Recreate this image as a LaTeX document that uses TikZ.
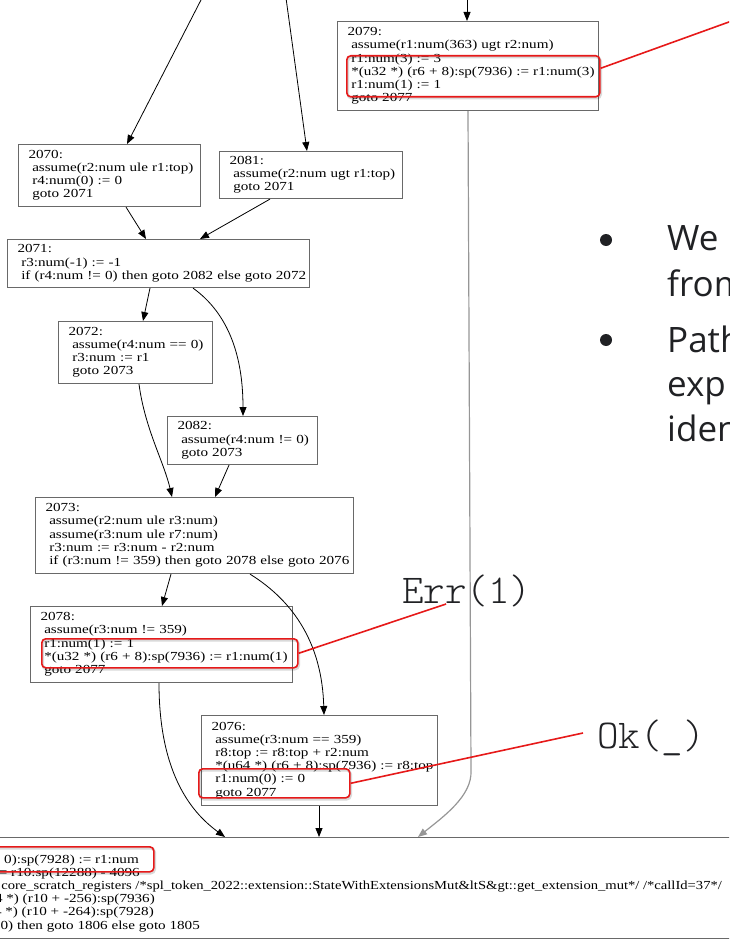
\documentclass[tikz,border=0pt]{standalone}
\usepackage{fontspec}
\usetikzlibrary{arrows.meta}
\newfontfamily\gvfont[FakeStretch=1.23]{Liberation Serif}
\newfontfamily\gvlongfont[FakeStretch=1.187]{Liberation Serif}
\newfontfamily\codefont{lmmonolt10-regular.otf}
\newfontfamily\slidefont{Open Sans}
\definecolor{hlred}{RGB}{230,25,25}
\definecolor{boxgray}{RGB}{105,105,105}
\definecolor{ink}{RGB}{32,33,36}
\definecolor{sidegray}{RGB}{150,150,150}
\newcommand{\ind}{\hspace*{3.7pt}}
\newcommand{\gvlines}[1]{\begin{tabular}{@{}l@{}}#1\end{tabular}}

\begin{document}
\begin{tikzpicture}[x=1pt,y=-1pt,
  gvbox/.style={draw=boxgray, line width=1.1pt, fill=white, rectangle, anchor=north west,
    inner xsep=10pt, inner ysep=0pt, align=left, font=\gvfont\fontsize{12.3}{13.2}\selectfont},
  gvline/.style={inner sep=0pt, font=\gvfont\fontsize{12.3}{13.2}\selectfont, anchor=base east},
  flow/.style={line width=0.8pt, -{Triangle[length=9pt,width=7pt]}},
  hlbox/.style={draw=hlred, line width=1.6pt, rounded corners=4pt, anchor=north west, inner sep=0pt,
    preaction={draw=black, opacity=0.15, line width=2.4pt, transform canvas={shift={(1pt,-1.5pt)}}}},
  hlline/.style={draw=hlred, line width=1.6pt},
  resulttag/.style={font=\codefont\fontsize{41}{46}\selectfont, text=ink, inner sep=0pt, anchor=base west},
  bullettext/.style={font=\slidefont\fontsize{35}{45}\selectfont, text=ink, inner sep=0pt, anchor=base west},
  bulletdot/.style={circle, fill=ink, minimum size=12pt, inner sep=0pt},
]
\useasboundingbox (0,0) rectangle (729,941);
\clip (0,0) rectangle (729,941);

% ---- basic blocks ----
\node (n2079) [gvbox, text width=241pt, minimum height=89pt] at (337,21)
  {\gvlines{2079:\\ \ind assume(r1:num(363) ugt r2:num)\\ \ind r1:num(3) := 3\\
   \ind *(u32 *) (r6 + 8):sp(7936) := r1:num(3)\\ \ind r1:num(1) := 1\\ \ind goto 2077}};
\node (n2070) [gvbox, text width=162pt, minimum height=62pt] at (18,144)
  {\gvlines{2070:\\ \ind assume(r2:num ule r1:top)\\ \ind r4:num(0) := 0\\ \ind goto 2071}};
\node (n2081) [gvbox, text width=163pt, minimum height=47pt] at (219,151)
  {\gvlines{2081:\\ \ind assume(r2:num ugt r1:top)\\ \ind goto 2071}};
\node (n2071) [gvbox, text width=282pt, minimum height=48pt] at (7,239)
  {\gvlines{2071:\\ \ind r3:num(-1) := -1\\ \ind if (r4:num != 0) then goto 2082 else goto 2072}};
\node (n2072) [gvbox, text width=134pt, minimum height=62pt] at (58,321)
  {\gvlines{2072:\\ \ind assume(r4:num == 0)\\ \ind r3:num := r1\\ \ind goto 2073}};
\node (n2082) [gvbox, text width=130pt, minimum height=48pt] at (167,416)
  {\gvlines{2082:\\ \ind assume(r4:num != 0)\\ \ind goto 2073}};
\node (n2073) [gvbox, text width=298pt, minimum height=76pt] at (35,497)
  {\gvlines{2073:\\ \ind assume(r2:num ule r3:num)\\ \ind assume(r3:num ule r7:num)\\
   \ind r3:num := r3:num - r2:num\\ \ind if (r3:num != 359) then goto 2078 else goto 2076}};
\node (n2078) [gvbox, text width=242pt, minimum height=76pt] at (30,606)
  {\gvlines{2078:\\ \ind assume(r3:num != 359)\\ \ind r1:num(1) := 1\\
   \ind *(u32 *) (r6 + 8):sp(7936) := r1:num(1)\\ \ind goto 2077}};
\node (n2076) [gvbox, text width=216pt, minimum height=90pt] at (201,715)
  {\gvlines{2076:\\ \ind assume(r3:num == 359)\\ \ind r8:top := r8:top + r2:num\\
   \ind *(u64 *) (r6 + 8):sp(7936) := r8:top\\ \ind r1:num(0) := 0\\ \ind goto 2077}};
\node (n2077) [gvbox, text width=770pt, minimum height=101pt] at (-30,837) {};
\node (l2) [gvline] at (139,863) {+ 0):sp(7928) := r1:num};
\node (l3) [gvline] at (140,876.2) {:= r10:sp(12288) - 4096};
\node (l4) [gvline, font=\gvlongfont\fontsize{12.3}{13.2}\selectfont] at (722,889.4)
  {core\_scratch\_registers /*spl\_token\_2022::extension::StateWithExtensionsMut\&ltS\&gt::get\_extension\_mut*/ /*callId=37*/};
\node (l5) [gvline] at (155,902.6) {64 *) (r10 + -256):sp(7936)};
\node (l6) [gvline] at (154,915.8) {u64 *) (r10 + -264):sp(7928)};
\node (l7) [gvline] at (200,929) {!= 0) then goto 1806 else goto 1805};

% ---- control-flow edges ----
\coordinate (in2079) at (467,-2);
\coordinate (in2070) at (202,-2);
\coordinate (in2081) at (286,-2);
\draw[flow] (in2079) -- ([xshift=130pt]n2079.north west);
\draw[flow] (in2070) -- ([xshift=109pt]n2070.north west);
\draw[flow] (in2081) -- ([xshift=88pt]n2081.north west);
\draw[flow] ([xshift=108pt]n2070.south west) -- ([xshift=139pt]n2071.north west);
\draw[flow] ([xshift=51pt]n2081.south west) -- ([xshift=193pt]n2071.north west);
\draw[flow] ([xshift=143pt]n2071.south west) -- ([xshift=85pt]n2072.north west);
\draw[flow] ([xshift=186pt]n2071.south west) .. controls +(32,23) and +(0,-66) .. ([xshift=76pt]n2082.north west);
\draw[flow] ([xshift=81pt]n2072.south west) .. controls +(6,45) and +(-8,-35) .. ([xshift=137pt]n2073.north west);
\draw[flow] ([xshift=62pt]n2082.south west) -- ([xshift=180pt]n2073.north west);
\draw[flow] ([xshift=136pt]n2073.south west) -- ([xshift=132pt]n2078.north west);
\draw[flow] ([xshift=215pt]n2073.south west) .. controls +(45,28) and +(-2,-70) .. ([xshift=123pt]n2076.north west);
\draw[flow] ([xshift=129pt]n2078.south west) .. controls +(0,95) and +(-30,-22) .. ([xshift=255pt]n2077.north west);
\draw[flow] ([xshift=118pt]n2076.south west) -- ([xshift=349pt]n2077.north west);
\draw[flow, draw=sidegray, line width=1.2pt] ([xshift=131pt]n2079.south west) -- ++(3,660)
  .. controls +(1,25) and +(25,-20) .. ([xshift=448pt]n2077.north west);

% ---- highlighted statements ----
\node (r1) [hlbox, minimum width=253pt, minimum height=41pt] at (346,55) {};
\node (r2) [hlbox, minimum width=256pt, minimum height=29pt] at (41,638) {};
\node (r3) [hlbox, minimum width=151pt, minimum height=29pt] at (198,768) {};
\node (r4) [hlbox, minimum width=163pt, minimum height=25pt] at (-10,846) {};

\node (err) [resulttag] at (402,603) {Err(1)};
\node (ok) [resulttag] at (597,748) {Ok(\_)};
\coordinate (farnote) at (740,18);
\draw[hlline] ([yshift=8pt]r1.east) -- (farnote);
\draw[hlline] (r2.east) -- ([shift={(44pt,-1pt)}]err.base west);
\draw[hlline] (r3.east) -- ([shift={(-14pt,15pt)}]ok.base west);

% ---- slide bullets ----
\node (b1) [bulletdot] at (606,240) {};
\node (b2) [bulletdot] at (606,340) {};
\node (w1) [bullettext] at (667,251) {We};
\node (w2) [bullettext] at (667,296) {from};
\node (w3) [bullettext] at (667,352) {Path};
\node (w4) [bullettext] at (667,396) {exp};
\node (w5) [bullettext] at (667,441) {iden};
\end{tikzpicture}
\end{document}
